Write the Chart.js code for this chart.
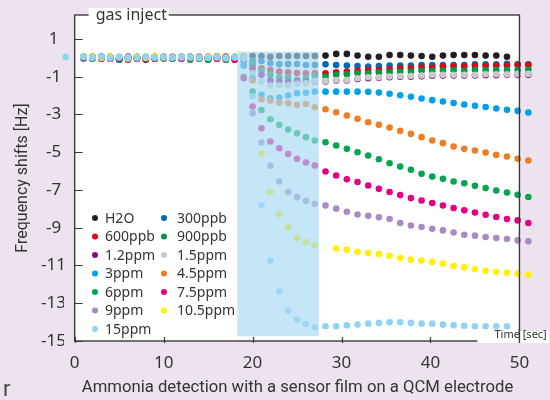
<!DOCTYPE html>
<html>
<head>
<meta charset="utf-8">
<script src="https://cdn.jsdelivr.net/npm/chart.js@4.4.1/dist/chart.umd.min.js"></script>
<style>
  html, body { margin: 0; padding: 0; background: #ece3ef; }
  #wrap { width: 550px; height: 400px; }
</style>
</head>
<body>
<div id="wrap"><canvas id="qcmChart" width="550" height="400"></canvas></div>
<script>
/* ── QCM AMMONIA RESPONSE ── */

// 1. Data (time in seconds, frequency shift in Hz)
// pre-injection: -1, 1..18 | gas: 19..26 | after: 27.0 .. 51.0
const timeSec = [
    -1, 1, 2, 3, 4, 5, 6, 7, 8, 9, 10, 11, 12, 13, 14, 15, 16, 17, 18,
    19, 20, 21, 22, 23, 24, 25, 26,
    27.0, 28.2, 29.4, 30.6, 31.8, 33.0, 34.2, 35.4, 36.6, 37.8, 39.0,
    40.2, 41.4, 42.6, 43.8, 45.0, 46.2, 47.4, 48.6, 49.8, 51.0,
];

const h2o = [
    null, 0.0, 0.05, 0.0, -0.05, -0.1, 0.0, -0.05, -0.1, 0.0, 0.05, 0.0, 0.05, 0.0, 0.05, 0.0, 0.05, 0.0, 0.05,
    0.05, 0.1, 0.1, 0.05, 0.1, 0.1, 0.1, 0.1,
    0.1, 0.12, 0.21, 0.21, 0.12, 0.06, 0.06, 0.15, 0.15, 0.12, 0.1, 0.06, 0.12, 0.15, 0.15, 0.15, 0.12, 0.12, 0.06, null, null,
];
const ppb300 = [
    null, 0.05, 0.0, 0.05, 0.0, -0.05, 0.0, 0.05, 0.0, -0.05, 0.0, 0.05, 0.0, 0.05, 0.0, -0.05, 0.0, 0.05, 0.0,
    -0.05, -0.15, -0.17, -0.29, -0.33, -0.33, -0.33, -0.38,
    -0.38, -0.34, -0.38, -0.41, -0.43, -0.46, -0.43, -0.41, -0.41, -0.41, -0.38, -0.38, -0.38, -0.38, -0.38, -0.34, -0.34, -0.34, -0.32, -0.34, -0.34,
];
const ppb600 = [
    null, 0.0, -0.05, 0.0, 0.05, -0.05, -0.1, 0.0, 0.0, -0.05, 0.0, -0.05, 0.0, 0.05, -0.05, 0.0, -0.05, -0.05, -0.1,
    -0.1, -0.35, -0.55, -0.65, -0.72, -0.76, -0.8, -0.82,
    -0.82, -0.82, -0.76, -0.73, -0.69, -0.64, -0.64, -0.6, -0.55, -0.55, -0.52, -0.52, -0.46, -0.46, -0.46, -0.43, -0.43, -0.41, -0.41, -0.38, -0.38,
];
const ppb900 = [
    null, 0.05, 0.0, -0.05, 0.0, -0.1, -0.05, 0.0, 0.05, 0.0, -0.05, 0.0, 0.05, -0.1, 0.0, -0.05, 0.0, -0.1, 0.0,
    -0.1, -0.32, -0.69, -0.9, -1.03, -1.05, -1.17, -1.1,
    -0.96, -0.99, -0.9, -0.87, -0.82, -0.82, -0.78, -0.76, -0.73, -0.73, -0.68, -0.68, -0.68, -0.64, -0.68, -0.64, -0.64, -0.64, -0.64, -0.64, -0.62,
];
const ppm1_2 = [
    null, 0.0, 0.0, 0.05, -0.05, 0.0, 0.05, -0.05, 0.0, 0.05, 0.0, -0.05, 0.0, 0.05, 0.0, -0.1, 0.0, 0.05, -0.05,
    -0.15, -0.55, -0.9, -1.2, -1.25, -1.25, -1.25, -1.25,
    -1.25, -1.25, -1.2, -1.2, -1.12, -1.08, -1.06, -1.03, -1.0, -1.0, -0.98, -0.95, -0.94, -0.94, -0.94, -0.93, -0.92, -0.92, -0.9, -0.9, -0.9,
];
const ppm1_5 = [
    null, 0.05, 0.0, 0.0, 0.05, 0.0, -0.05, 0.0, 0.05, 0.0, 0.0, 0.05, 0.0, 0.0, 0.05, 0.0, 0.0, -0.05, 0.0,
    -0.43, -0.82, -1.26, -1.47, -1.45, -1.45, -1.38, -1.35,
    -1.22, -1.22, -1.17, -1.17, -1.08, -1.03, -1.03, -0.99, -0.96, -0.96, -0.94, -0.9, -0.9, -0.9, -0.9, -0.9, -0.87, -0.87, -0.87, -0.85, -0.85,
];
const ppm3 = [
    null, -0.05, 0.0, 0.05, 0.0, -0.1, 0.0, 0.05, -0.05, 0.0, 0.05, 0.0, -0.05, 0.05, 0.0, 0.05, 0.0, 0.0, -0.05,
    -0.4, -1.08, -1.96, -2.14, -2.1, -2.0, -1.87, -1.85,
    -1.79, -1.79, -1.79, -1.79, -1.79, -1.8, -1.84, -1.9, -1.98, -2.06, -2.15, -2.24, -2.31, -2.39, -2.47, -2.54, -2.61, -2.68, -2.75, -2.81, -2.9,
];
const ppm4_5 = [
    null, 0.0, 0.05, 0.0, 0.0, 0.05, 0.0, -0.05, 0.0, 0.05, 0.0, 0.0, 0.05, 0.0, -0.05, 0.05, 0.1, 0.05, -0.05,
    0.05, -1.2, -2.19, -2.26, -2.37, -2.4, -2.49, -2.45,
    -2.62, -2.72, -2.88, -3.06, -3.23, -3.41, -3.55, -3.69, -3.87, -4.03, -4.2, -4.38, -4.52, -4.7, -4.82, -4.91, -5.02, -5.14, -5.23, -5.35, -5.44,
];
const ppm6 = [
    null, 0.0, -0.05, 0.0, 0.05, -0.1, 0.0, 0.0, -0.05, 0.0, 0.0, -0.05, 0.0, 0.05, -0.05, -0.1, 0.0, -0.1, 0.0,
    -1.0, -1.79, -2.76, -3.25, -3.55, -3.8, -4.0, -4.2,
    -4.38, -4.47, -4.64, -4.82, -5.0, -5.17, -5.37, -5.58, -5.76, -5.93, -6.14, -6.29, -6.41, -6.55, -6.64, -6.78, -6.9, -7.03, -7.13, -7.25, -7.37,
];
const ppm7_5 = [
    null, 0.0, 0.05, -0.05, 0.0, -0.05, 0.05, 0.0, -0.05, 0.0, 0.05, 0.0, -0.05, 0.0, 0.0, 0.05, -0.05, 0.0, -0.1,
    -1.08, -2.58, -3.73, -4.43, -4.79, -5.1, -5.35, -5.54,
    -5.7, -6.02, -6.23, -6.43, -6.58, -6.76, -6.94, -7.11, -7.27, -7.43, -7.56, -7.69, -7.82, -7.96, -8.08, -8.19, -8.31, -8.43, -8.54, -8.61, -8.75,
];
const ppm9 = [
    null, 0.05, 0.0, 0.0, -0.05, 0.0, 0.05, 0.0, 0.0, 0.05, 0.0, 0.05, 0.0, 0.0, 0.05, 0.0, 0.0, -0.05, 0.0,
    null, -2.93, -4.49, -5.72, -6.55, -7.11, -7.38, -7.57,
    -7.73, -7.82, -7.99, -8.15, -8.3, -8.37, -8.45, -8.54, -8.75, -8.88, -8.96, -9.05, -9.14, -9.25, -9.37, -9.42, -9.49, -9.55, -9.6, -9.67, -9.72,
];
const ppm10_5 = [
    null, 0.05, 0.05, 0.0, 0.05, 0.05, 0.0, 0.05, 0.0, 0.05, 0.05, 0.0, 0.05, 0.05, 0.0, 0.05, 0.05, 0.0, 0.05,
    0.0, null, -5.08, -7.11, -8.28, -8.98, -9.55, -9.76,
    -9.92, null, -10.1, -10.16, -10.27, -10.34, -10.39, -10.48, -10.6, -10.69, -10.74, -10.81, -10.9, -11.03, -11.1, -11.19, -11.28, -11.33, -11.38, -11.43, -11.49,
];
const ppm15 = [
    0.05, 0.05, 0.0, 0.05, 0.0, 0.05, 0.0, 0.0, 0.05, 0.0, 0.05, 0.0, 0.05, 0.05, 0.0, 0.0, 0.05, 0.0, 0.05,
    -0.05, -2.05, -7.82, -10.75, -12.37, -13.39, -13.87, -14.1,
    -14.27, -14.22, -14.22, -14.17, -14.13, -14.08, -14.04, -14.01, -14.01, -14.04, -14.08, -14.08, -14.13, -14.17, -14.19, -14.22, -14.22, -14.22, -14.22, null, null,
];

const seriesNames = ["H2O", "300ppb", "600ppb", "900ppb", "1.2ppm", "1.5ppm", "3ppm",
    "4.5ppm", "6ppm", "7.5ppm", "9ppm", "10.5ppm", "15ppm"];
const seriesValues = [h2o, ppb300, ppb600, ppb900, ppm1_2, ppm1_5, ppm3,
    ppm4_5, ppm6, ppm7_5, ppm9, ppm10_5, ppm15];
const seriesColors = ["#231f20", "#0068b7", "#e60012", "#009944", "#920783", "#c9caca", "#00a0e9",
    "#ef7d22", "#00a650", "#e4007f", "#a98bc2", "#fff100", "#8dd3f5"];

const xTickValues = [0, 10, 20, 30, 40, 50];
const yTickValues = [1, -1, -3, -5, -7, -9, -11, -13, -15];

// framed plot range (the scale is a bit wider so edge points still draw)
const frameX = [0, 50];

// gas injection window (sec) and its vertical extent (Hz)
const gasWindow = [18.3, 27.45];
const gasRange = [0.33, -14.75];

// 2. Decorations: frame, inward ticks, notes, legend
const BG = "#ece3ef";
const INK = "#333333";
const qcmDecor = {
    id: "qcmDecor",
    beforeDraw(chart) {
        const { ctx, chartArea: a, scales: { x } } = chart;
        const L = x.getPixelForValue(frameX[0]);
        const R = x.getPixelForValue(frameX[1]);
        ctx.save();
        ctx.fillStyle = BG;
        ctx.fillRect(0, 0, chart.width, chart.height);
        ctx.fillStyle = "#ffffff";
        ctx.fillRect(L, a.top, R - L, a.bottom - a.top);
        ctx.restore();
    },
    afterDatasetsDraw(chart) {
        const { ctx, scales: { x, y } } = chart;
        const x0 = x.getPixelForValue(gasWindow[0]);
        const x1 = x.getPixelForValue(gasWindow[1]);
        const y0 = y.getPixelForValue(gasRange[0]);
        const y1 = y.getPixelForValue(gasRange[1]);
        ctx.save();
        ctx.fillStyle = "rgba(166,217,243,0.65)";
        ctx.fillRect(x0, y0, x1 - x0, y1 - y0);
        ctx.restore();
    },
    afterDraw(chart) {
        const { ctx, chartArea: a, scales: { x, y } } = chart;
        const L = x.getPixelForValue(frameX[0]);
        const R = x.getPixelForValue(frameX[1]);
        ctx.save();

        // frame
        ctx.strokeStyle = "#3a3a3a";
        ctx.lineWidth = 1.4;
        ctx.strokeRect(L, a.top, R - L, a.bottom - a.top);

        // inward ticks
        ctx.lineWidth = 1.2;
        ctx.beginPath();
        yTickValues.forEach((v) => {
            const py = Math.round(y.getPixelForValue(v)) + 0.5;
            ctx.moveTo(L, py);
            ctx.lineTo(L + 8, py);
        });
        xTickValues.forEach((v) => {
            const px = Math.round(x.getPixelForValue(v)) + 0.5;
            ctx.moveTo(px, a.bottom - 4);
            ctx.lineTo(px, a.bottom + 2);
        });
        ctx.stroke();

        // "gas inject" note on the top border
        ctx.fillStyle = "#ffffff";
        ctx.fillRect(L + 14, 8, 80, 16);
        ctx.fillStyle = INK;
        ctx.font = "16px 'Noto Sans'";
        ctx.textBaseline = "alphabetic";
        ctx.textAlign = "left";
        ctx.fillText("gas inject", L + 21, 20);

        // "Time [sec]" note at the bottom-right corner
        ctx.fillStyle = "#ffffff";
        ctx.fillRect(R - 42, a.bottom - 10, 72, 12);
        ctx.strokeStyle = "#3a3a3a";
        ctx.lineWidth = 1.4;
        ctx.beginPath();
        ctx.moveTo(R, a.bottom - 12);
        ctx.lineTo(R, a.bottom + 2);
        ctx.stroke();
        ctx.fillStyle = INK;
        ctx.font = "11px 'Noto Sans'";
        ctx.fillText("Time [sec]", R - 25, a.bottom - 3);

        // cropped caption fragment at the lower left
        ctx.fillStyle = "#444444";
        ctx.font = "22px 'Roboto', sans-serif";
        ctx.fillText("r", 3, 396);

        // legend, two columns
        ctx.font = "14px 'Noto Sans'";
        ctx.textBaseline = "middle";
        chart.data.datasets.forEach((ds, i) => {
            const col = i % 2;
            const row = Math.floor(i / 2);
            const mx = col ? 164 : 95;
            const ty = 219 + row * 18.5;
            ctx.fillStyle = ds.backgroundColor;
            ctx.beginPath();
            ctx.arc(mx, ty - 1, 3, 0, Math.PI * 2);
            ctx.fill();
            ctx.fillStyle = INK;
            ctx.fillText(ds.label, col ? 177 : 105, ty);
        });

        ctx.restore();
    },
};

// 3. Chart
const qcmCtx = document.getElementById("qcmChart").getContext("2d");
const qcmChart = new Chart(qcmCtx, {
    type: "scatter",
    data: {
        datasets: seriesNames.map((name, i) => ({
            label: name,
            data: timeSec
                .map((t, k) => ({ x: t, y: seriesValues[i][k] }))
                .filter((p) => p.y !== null),
            backgroundColor: seriesColors[i],
            borderWidth: 0,
            pointRadius: 3.3,
            pointHoverRadius: 3.3,
            clip: false,
            order: seriesNames.length - i, // later series drawn on top
        })),
    },
    options: {
        responsive: false,
        animation: false,
        devicePixelRatio: 1,
        layout: { padding: { left: 0, right: 19, top: 15, bottom: 0 } },
        scales: {
            x: {
                type: "linear",
                min: -1.2,
                max: 51.3,
                afterBuildTicks: (axis) => { axis.ticks = xTickValues.map((v) => ({ value: v })); },
                afterFit: (axis) => { axis.height = 59; },
                grid: { display: false, drawTicks: false },
                border: { display: false },
                ticks: {
                    color: INK,
                    font: { family: "Noto Sans", size: 17 },
                    padding: 12,
                    maxRotation: 0,
                },
                title: {
                    display: true,
                    text: "Ammonia detection with a sensor film on a QCM electrode",
                    color: INK,
                    font: { family: "Roboto", size: 16.7 },
                    padding: { top: 0, bottom: 2 },
                },
            },
            y: {
                type: "linear",
                min: -15,
                max: 2.27,
                afterBuildTicks: (axis) => { axis.ticks = yTickValues.map((v) => ({ value: v })); },
                afterFit: (axis) => { axis.width = 64; },
                grid: { display: false, drawTicks: false },
                border: { display: false },
                ticks: {
                    color: INK,
                    font: { family: "Noto Sans", size: 17 },
                    padding: -2,
                    crossAlign: "center",
                },
                title: {
                    display: true,
                    text: "Frequency shifts [Hz]",
                    color: INK,
                    font: { family: "Roboto", size: 16 },
                    padding: { top: 13, bottom: 0 },
                },
            },
        },
        plugins: {
            legend: { display: false },
            tooltip: { enabled: false },
        },
    },
    plugins: [qcmDecor],
});
</script>
</body>
</html>
